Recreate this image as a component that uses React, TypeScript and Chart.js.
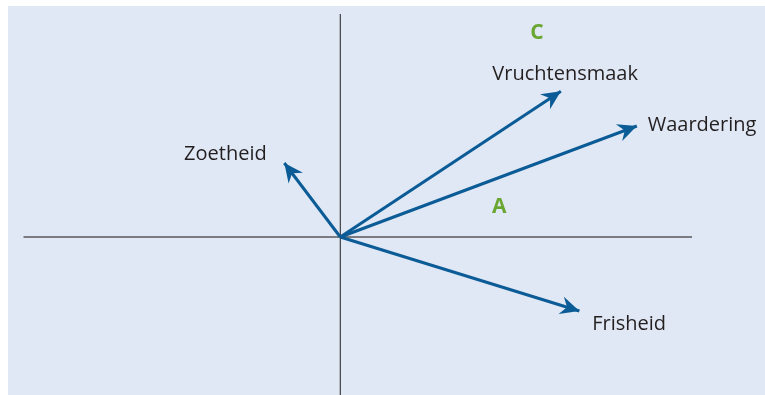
import React, { useEffect, useRef } from "react";
import { Chart, registerables } from "chart.js";

Chart.register(...registerables);

// Attribute vectors (loadings) in plot units
const attributes = ["Zoetheid", "Vruchtensmaak", "Waardering", "Frisheid"];
const vectorX = [-0.224, 0.883, 1.187, 0.957];
const vectorY = [0.296, 0.583, 0.444, -0.296];
// Anchor of each attribute label (text centre, baseline) in plot units
const labelX = [-0.46, 0.9, 1.448, 1.156];
const labelY = [0.31, 0.628, 0.425, -0.372];

// Products
const products = ["C", "A"];
const productX = [0.787, 0.636];
const productY = [0.793, 0.095];

// Axis extents
const xMin = -1.33;
const xMax = 1.7;
const yMin = -0.632;
const yMax = 0.924;
const hAxisFrom = -1.268;
const hAxisTo = 1.408;
const vAxisTop = 0.892;

const ARROW = "#0b5b96";
const GREEN = "#69a732";
const TEXT = "#231f20";
const BG = "#e0e8f5";

const decorPlugin = {
  id: "decor",
  beforeDraw(chart: any) {
    const { ctx, chartArea } = chart;
    ctx.save();
    ctx.fillStyle = BG;
    ctx.fillRect(chartArea.left, chartArea.top, chartArea.right - chartArea.left, chartArea.bottom - chartArea.top);
    ctx.restore();
  },
  afterDatasetsDraw(chart: any) {
    const { ctx } = chart;
    const xs = chart.scales.x;
    const ys = chart.scales.y;
    ctx.save();
    // arrowheads
    chart.data.datasets.forEach((ds: any, i: number) => {
      if (!ds.isArrow) return;
      const meta = chart.getDatasetMeta(i);
      const p0 = meta.data[0];
      const p1 = meta.data[1];
      const ang = Math.atan2(p1.y - p0.y, p1.x - p0.x);
      const L = 19;
      const W = 9;
      const ux = Math.cos(ang), uy = Math.sin(ang);
      const nx = -uy, ny = ux;
      ctx.fillStyle = ARROW;
      ctx.beginPath();
      ctx.moveTo(p1.x, p1.y);
      ctx.lineTo(p1.x - L * ux + W * nx, p1.y - L * uy + W * ny);
      ctx.lineTo(p1.x - 0.68 * L * ux, p1.y - 0.68 * L * uy);
      ctx.lineTo(p1.x - L * ux - W * nx, p1.y - L * uy - W * ny);
      ctx.closePath();
      ctx.fill();
    });
    // attribute labels
    ctx.fillStyle = TEXT;
    ctx.font = '20px "Open Sans", "Noto Sans", sans-serif';
    ctx.textAlign = "center";
    ctx.textBaseline = "alphabetic";
    attributes.forEach((name, i) => {
      ctx.fillText(name, xs.getPixelForValue(labelX[i]), ys.getPixelForValue(labelY[i]));
    });
    // products
    ctx.fillStyle = GREEN;
    ctx.font = 'bold 21px "Open Sans", "Noto Sans", sans-serif';
    products.forEach((name, i) => {
      ctx.fillText(name, xs.getPixelForValue(productX[i]), ys.getPixelForValue(productY[i]));
    });
    ctx.restore();
  },
};

export default function App() {
  const ref = useRef<HTMLCanvasElement | null>(null);
  useEffect(() => {
    if (!ref.current) return;
    const arrowSets = attributes.map((name, i) => ({
      label: name,
      isArrow: true,
      data: [
        { x: 0, y: 0 },
        { x: vectorX[i], y: vectorY[i] },
      ],
      showLine: true,
      borderColor: ARROW,
      borderWidth: 3,
      pointRadius: 0,
      pointHoverRadius: 0,
      order: 1,
    }));
    const chart = new Chart(ref.current, {
      type: "scatter",
      data: {
        datasets: [
          {
            label: "hAxis",
            data: [
              { x: hAxisFrom, y: 0 },
              { x: hAxisTo, y: 0 },
            ],
            showLine: true,
            borderColor: "#58585a",
            borderWidth: 1.6,
            pointRadius: 0,
            order: 3,
          },
          {
            label: "vAxis",
            data: [
              { x: 0, y: yMin },
              { x: 0, y: vAxisTop },
            ],
            showLine: true,
            borderColor: "#1f1f1f",
            borderWidth: 1,
            pointRadius: 0,
            order: 2,
          },
          ...arrowSets,
        ] as any,
      },
      options: {
        animation: false,
        responsive: false,
        devicePixelRatio: 1,
        layout: { padding: { left: 8, top: 6, right: 0, bottom: 0 } },
        plugins: {
          legend: { display: false },
          tooltip: { enabled: false },
          title: { display: false },
        },
        events: [],
        scales: {
          x: { type: "linear", min: xMin, max: xMax, display: false },
          y: { type: "linear", min: yMin, max: yMax, display: false },
        },
      },
      plugins: [decorPlugin],
    });
    return () => chart.destroy();
  }, []);
  return (
    <div style={{ position: "absolute", left: 0, top: 0, width: 765, height: 395, background: "#fff" }}>
      <canvas ref={ref} width={765} height={395} style={{ display: "block" }} />
    </div>
  );
}
